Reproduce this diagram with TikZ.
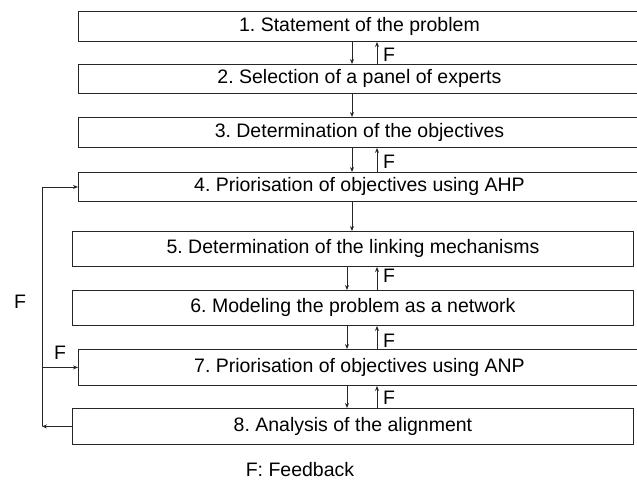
\documentclass[tikz,border=0pt]{standalone}
\usepackage{fontspec}
\setmainfont{Liberation Sans}
\usetikzlibrary{arrows.meta}
\begin{document}
\frenchspacing
\begin{tikzpicture}[x=1pt,y=-1pt,
  font=\fontsize{19.5}{22}\selectfont,
  box/.style={draw=black!85, line width=0.9pt, rectangle, inner sep=0pt, anchor=north west},
  arr/.style={draw=black!85, line width=0.9pt, -{Stealth[length=5pt,width=4pt]}},
  ln/.style={draw=black!85, line width=0.9pt},
  flab/.style={anchor=west, inner sep=0pt}]
\useasboundingbox (0,0) rectangle (637,487);
% boxes (wide ones run past the right edge)
\node[box, minimum width=562pt, minimum height=30pt] (b1) at (78,11) {};
\node at (b1.center) {1. Statement of the problem};
\node[box, minimum width=562pt, minimum height=29pt] (b2) at (78,64) {};
\node at (b2.center) {2. Selection of a panel of experts};
\node[box, minimum width=562pt, minimum height=30pt] (b3) at (78,117) {};
\node at (b3.center) {3. Determination of the objectives};
\node[box, minimum width=562pt, minimum height=29pt] (b4) at (78,172) {};
\node at (b4.center) {4. Priorisation of objectives using AHP};
\node[box, minimum width=561pt, minimum height=35pt] (b5) at (72,231) {};
\node at (b5.center) {5. Determination of the linking mechanisms};
\node[box, minimum width=561pt, minimum height=35pt] (b6) at (72,290) {};
\node at (b6.center) {6. Modeling the problem as a network};
\node[box, minimum width=562pt, minimum height=36pt] (b7) at (78,349) {};
\node at (b7.center) {7. Priorisation of objectives using ANP};
\node[box, minimum width=561pt, minimum height=36pt] (b8) at (72,408) {};
\node at (b8.center) {8. Analysis of the alignment};
% reference columns
\coordinate (dA) at (352,0);
\coordinate (dB) at (347,0);
\coordinate (u) at (377,0);
\coordinate (lx) at (42,0);
% down arrows
\draw[arr] (dA |- b1.south) -- (dA |- b2.north);
\draw[arr] (dA |- b2.south) -- (dA |- b3.north);
\draw[arr] (dA |- b3.south) -- (dA |- b4.north);
\draw[arr] (dA |- b4.south) -- (dA |- b5.north);
\draw[arr] (dB |- b5.south) -- (dB |- b6.north);
\draw[arr] (dB |- b6.south) -- (dB |- b7.north);
\draw[arr] (dB |- b7.south) -- (dB |- b8.north);
% feedback arrows
\draw[arr] (u |- b2.north) -- (u |- b1.south);
\draw[arr] (u |- b4.north) -- (u |- b3.south);
\draw[arr] (u |- b6.north) -- (u |- b5.south);
\draw[arr] (u |- b7.north) -- (u |- b6.south);
\draw[arr] (u |- b8.north) -- (u |- b7.south);
\node[flab] (f1) at (383,55) {F};
\node[flab] (f3) at (383,162) {F};
\node[flab] (f5) at (383,276) {F};
\node[flab] (f6) at (383,341) {F};
\node[flab] (f7) at (383,398) {F};
% left feedback loop
\draw[arr] (b8.west) -- (lx |- b8.west);
\draw[arr] (lx |- b8.west) -- (lx |- b4.west) -- (b4.west);
\draw[arr] (lx |- b7.west) -- (b7.west);
\node (fl) at (20,302) {F};
\node (fb) at (60,353) {F};
% legend
\node (leg) at (300,470) {F: Feedback};
\end{tikzpicture}
\end{document}
